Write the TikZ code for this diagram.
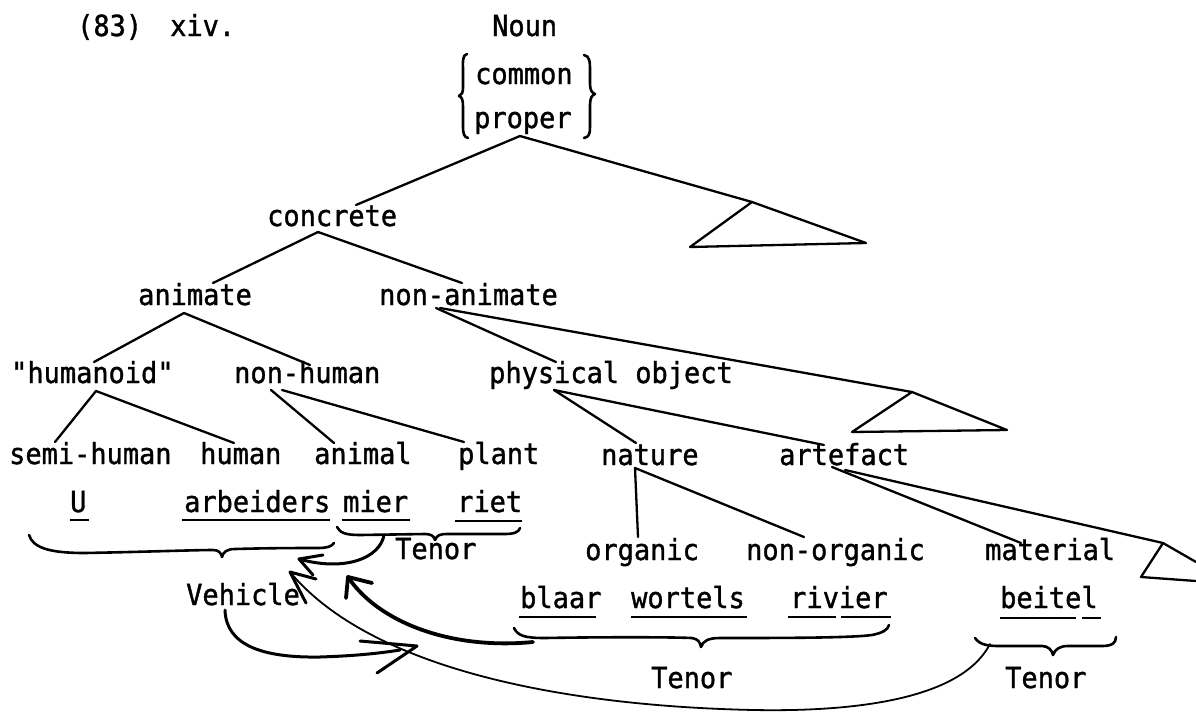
\documentclass[tikz,border=0pt]{standalone}
\usepackage{fontspec}
\newfontfamily\tw[FakeStretch=0.93,FakeBold=1.2]{DejaVu Sans Mono}
\begin{document}
\begin{tikzpicture}[x=1pt,y=-1pt,
  txt/.style={font=\tw\fontsize{29pt}{30pt}\selectfont, inner sep=0pt, anchor=base west},
  ln/.style={line width=2.3pt, line cap=round, line join=round},
  brc/.style={line width=2.6pt, line cap=round, line join=round},
  ul/.style={line width=2.4pt},
  thinarrow/.style={line width=1.8pt, line cap=round},
  heavy/.style={line width=3.8pt, line cap=round, line join=round},
  head/.style={line width=3pt, line cap=round, line join=round}]
\fill[white] (0,0) rectangle (1196,712);
\useasboundingbox (0,0) rectangle (1196,712);

% ---- texts ----
\node[txt] (n83) at (77,36) {(83)};
\node[txt] (xiv) at (170,36) {xiv.};
\node[txt] (noun) at (492,36) {Noun};
\node[txt] (common) at (475,84) {common};
\node[txt] (proper) at (474,128) {proper};
\node[txt] (concrete) at (267,226) {concrete};
\node[txt] (animate) at (138,305) {animate};
\node[txt] (nonanimate) at (379,305) {non-animate};
\node[txt] (humanoid) at (11,383) {"humanoid"};
\node[txt] (nonhuman) at (234,383) {non-human};
\node[txt] (physobj) at (489,383) {physical object};
\node[txt] (semihuman) at (9,464) {semi-human};
\node[txt] (human) at (200,464) {human};
\node[txt] (animal) at (314,464) {animal};
\node[txt] (plant) at (458,464) {plant};
\node[txt] (nature) at (601,465) {nature};
\node[txt] (artefact) at (779,465) {artefact};
\node[txt] (U) at (70,512) {U};
\node[txt] (arbeiders) at (184,512) {arbeiders};
\node[txt] (mier) at (343,512) {mier};
\node[txt] (riet) at (457,512) {riet};
\node[txt] (tenorA) at (395,559) {Tenor};
\node[txt] (organic) at (585,560) {organic};
\node[txt] (nonorganic) at (746,560) {non-organic};
\node[txt] (material) at (985,560) {material};
\node[txt] (vehicle) at (186,605) {Vehicle};
\node[txt] (blaar) at (520,608) {blaar};
\node[txt] (wortels) at (631,608) {wortels};
\node[txt] (rivier) at (790,608) {rivier};
\node[txt] (beitel) at (1000,608) {beitel};
\node[txt] (tenorB) at (651,688) {Tenor};
\node[txt] (tenorC) at (1005,688) {Tenor};

% ---- underlines ----
\draw[ul] (70,520) -- (89,520);
\draw[ul] (182,520) -- (330,520);
\draw[ul] (342,520) -- (410,520);
\draw[ul] (455,521) -- (522,521);
\draw[ul] (519,617) -- (596,617);
\draw[ul] (631,617) -- (747,617);
\draw[ul] (788,617) -- (836,617);
\draw[ul] (841,617) -- (891,617);
\draw[ul] (1000,618) -- (1076,618);
\draw[ul] (1082,618) -- (1101,618);

% ---- tree coordinates ----
\coordinate (nounApex) at (520,136);
\coordinate (concTop) at (356,205);
\coordinate (tri1A) at (752,202);
\coordinate (tri1L) at (690,247);
\coordinate (tri1R) at (866,243);
\coordinate (concApex) at (318,232);
\coordinate (animTop) at (213,283);
\coordinate (nonanimTop) at (462,283);
\coordinate (animApex) at (184,313);
\coordinate (humdTop) at (94,362);
\coordinate (nonhTop) at (310,365);
\coordinate (nanApex) at (436,308);
\coordinate (nanApex2) at (440,308);
\coordinate (physTop) at (556,362);
\coordinate (tri2A) at (912,392);
\coordinate (tri2L) at (852,432);
\coordinate (tri2R) at (1007,430);
\coordinate (humdApex) at (96,391);
\coordinate (semiTop) at (55,442);
\coordinate (humanTop) at (234,443);
\coordinate (nonhApex1) at (271,390);
\coordinate (animalTop) at (334,443);
\coordinate (nonhApex2) at (282,390);
\coordinate (plantTop) at (464,442);
\coordinate (physApex) at (554,390);
\coordinate (natureTop) at (636,443);
\coordinate (artTop) at (824,445);
\coordinate (natApex) at (635,468);
\coordinate (orgTop) at (638,537);
\coordinate (nonorgTop) at (804,537);
\coordinate (artApex) at (832,467);
\coordinate (matTop) at (1021,543);
\coordinate (artApex2) at (845,470);
\coordinate (tri3A) at (1163,543);
\coordinate (tri3L) at (1141,577);
\coordinate (tri3R) at (1196,581);
\coordinate (tri3E) at (1196,562);

% ---- tree lines ----
\draw[ln] (nounApex) -- (concTop);
\draw[ln] (nounApex) -- (tri1A) -- (tri1R) -- (tri1L) -- (tri1A);
\draw[ln] (concApex) -- (animTop);
\draw[ln] (concApex) -- (nonanimTop);
\draw[ln] (animApex) -- (humdTop);
\draw[ln] (animApex) -- (nonhTop);
\draw[ln] (nanApex) -- (physTop);
\draw[ln] (nanApex2) -- (tri2A) -- (tri2R) -- (tri2L) -- (tri2A);
\draw[ln] (humdApex) -- (semiTop);
\draw[ln] (humdApex) -- (humanTop);
\draw[ln] (nonhApex1) -- (animalTop);
\draw[ln] (nonhApex2) -- (plantTop);
\draw[ln] (physApex) -- (natureTop);
\draw[ln] (physApex) -- (artTop);
\draw[ln] (natApex) -- (orgTop);
\draw[ln] (natApex) -- (nonorgTop);
\draw[ln] (artApex) -- (matTop);
\draw[ln] (artApex2) -- (tri3A) -- (tri3L) -- (tri3R);
\draw[ln] (tri3A) -- (tri3E);

% ---- braces round common / proper ----
\draw[brc] (467,54) .. controls (462,55) and (463,62) .. (463,72) -- (463,86) .. controls (463,93) and (462,95) .. (459,96) .. controls (462,97) and (463,100) .. (463,107) -- (463,126) .. controls (463,134) and (464,137) .. (468,138);
\draw[brc] (584,55) .. controls (590,56) and (590,62) .. (590,72) -- (590,84) .. controls (590,90) and (592,93) .. (595,94) .. controls (592,95) and (590,98) .. (590,105) -- (590,127) .. controls (590,134) and (589,137) .. (584,138);

% ---- under-braces ----
\draw[brc] (29,535) .. controls (33,548) and (50,553) .. (85,553) .. controls (140,552) and (195,550) .. (213,550) .. controls (219,550) and (221,553) .. (222,557) .. controls (223,552) and (227,549) .. (235,549) .. controls (270,548) and (300,548) .. (318,548) .. controls (328,548) and (332,546) .. (334,543);
\draw[brc] (337,527) .. controls (340,533) and (346,535) .. (360,535) -- (425,534) .. controls (431,534) and (434,536) .. (435,540) .. controls (437,535) and (440,534) .. (448,534) -- (505,534) .. controls (514,534) and (519,532) .. (520,528);
\draw[brc] (514,628) .. controls (518,636) and (525,638) .. (545,638) .. controls (600,637) and (670,637) .. (692,638) .. controls (698,639) and (700,642) .. (701,647) .. controls (703,641) and (708,638) .. (720,638) .. controls (780,638) and (850,638) .. (872,635) .. controls (882,633) and (888,630) .. (889,625);
\draw[brc] (975,638) .. controls (980,645) and (988,646) .. (1000,646) -- (1042,646) .. controls (1048,646) and (1052,650) .. (1053,655) .. controls (1055,649) and (1060,646) .. (1068,646) -- (1102,646) .. controls (1112,646) and (1116,643) .. (1116,637);

% ---- arrows ----
\coordinate (aStart) at (384,535);
\coordinate (aTip) at (299,559);
\draw[head] (aStart) .. controls (380,558) and (345,572) .. (aTip);
\draw[head] (323,555) -- (aTip) -- (313,575);

\coordinate (bStart) at (533,642);
\coordinate (bTip) at (348,577);
\draw[heavy] (bStart) .. controls (450,650) and (378,622) .. (bTip);
\draw[heavy] (372,583) -- (bTip) -- (346,598);

\coordinate (cStart) at (990,644);
\coordinate (cMid) at (754,710);
\coordinate (cTip) at (290,572);
\draw[thinarrow] (cStart) .. controls (962,698) and (860,712) .. (cMid) .. controls (560,706) and (370,668) .. (cTip);
\draw[head] (316,579) -- (cTip) -- (306,603);

\coordinate (dStart) at (225,610);
\coordinate (dBend) at (320,657);
\coordinate (dTip) at (417,646);
\draw[head] (dStart) .. controls (226,645) and (262,658) .. (dBend) .. controls (350,656) and (375,654) .. (400,650);
\draw[head] (360,641) -- (dTip) -- (377,673);
\end{tikzpicture}
\end{document}
